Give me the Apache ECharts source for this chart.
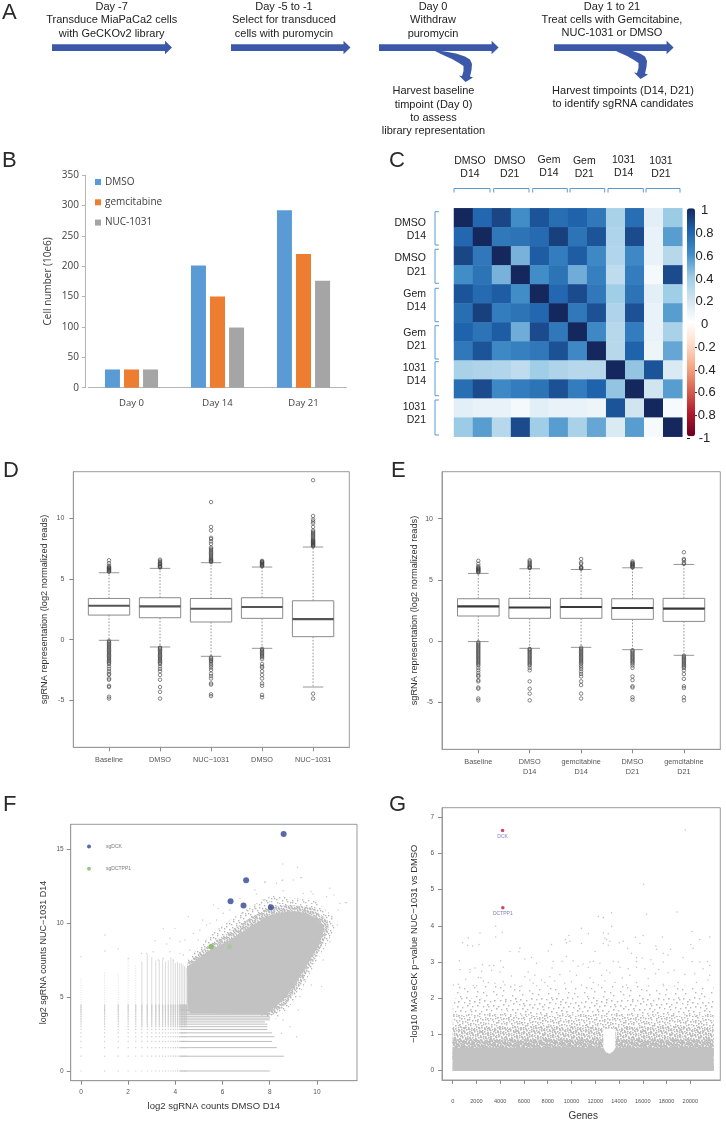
<!DOCTYPE html>
<html><head><meta charset="utf-8">
<script src="https://cdn.jsdelivr.net/npm/echarts@6/dist/echarts.min.js"></script>
<style>html,body{margin:0;padding:0;background:#fff}#main{width:726px;height:1122px;filter:blur(0.3px)}</style>
</head><body><div id="main"></div>
<script>
// ---------- Panel B ----------
const growthDays = ['Day 0','Day 14','Day 21'];
const growthDMSO = [30,201,292];
const growthGem = [30,150,220];
const growthNUC = [30,99,176];
// ---------- Panel C ----------
const corrSamples = ['DMSO D14 a','DMSO D14 b','DMSO D21 a','DMSO D21 b','Gem D14 a','Gem D14 b','Gem D21 a','Gem D21 b','1031 D14 a','1031 D14 b','1031 D21 a','1031 D21 b'];
const corrMatrix = [
 [1,.78,.9,.6,.85,.75,.8,.7,.35,.75,.12,.4],
 [.78,1,.7,.72,.76,.92,.72,.85,.33,.88,.1,.55],
 [.9,.7,1,.48,.82,.68,.82,.62,.32,.62,.1,.3],
 [.6,.72,.48,1,.6,.72,.5,.66,.27,.68,.05,.88],
 [.85,.76,.82,.6,1,.78,.88,.7,.38,.72,.12,.38],
 [.75,.92,.68,.72,.78,1,.7,.86,.33,.86,.1,.55],
 [.8,.72,.82,.5,.88,.7,1,.62,.3,.68,.1,.35],
 [.7,.85,.62,.66,.7,.86,.62,1,.3,.8,.08,.52],
 [.35,.33,.32,.27,.38,.33,.3,.3,1,.42,.85,.16],
 [.75,.88,.62,.68,.72,.86,.68,.8,.42,1,.2,.55],
 [.12,.1,.1,.05,.12,.1,.1,.08,.85,.2,1,.04],
 [.4,.55,.3,.88,.38,.55,.35,.52,.16,.55,.04,1]];
const corrColors = ['#67001F','#B2182B','#D6604D','#F4A582','#FDDBC7','#FFFFFF','#D1E5F0','#9CCBE6','#418DC8','#1F63AC','#14285E'];
const corrTicks = [1,.8,.6,.4,.2,0,-.2,-.4,-.6,-.8,-1];
// ---------- Panels D and E : [low whisker, q1, median, q3, high whisker] ----------
const boxNamesD = ['Baseline','DMSO','NUC\u22121031','DMSO','NUC\u22121031'];
const boxStatsD = [[-.05,2.03,2.8,3.4,5.52],[-.6,1.81,2.75,3.46,5.88],[-1.37,1.46,2.55,3.4,6.35],[-.71,1.76,2.69,3.46,5.99],[-3.9,.25,1.7,3.21,7.64]];
const boxNamesE = ['Baseline','DMSO\nD14','gemcitabine\nD14','DMSO\nD21','gemcitabine\nD21'];
const boxStatsE = [[-.05,2.04,2.83,3.45,5.52],[-.6,1.85,2.74,3.48,5.9],[-.52,1.85,2.77,3.48,5.84],[-.71,1.77,2.69,3.45,5.98],[-1.17,1.6,2.64,3.48,6.25]];
const outBase = [5.6,5.65,5.7,5.75,5.8,5.85,5.9,5.95,6,6.1,6.3,6.55,-.1,-.2,-.3,-.4,-.5,-.6,-.7,-.8,-.9,-1,-1.1,-1.2,-1.3,-1.4,-1.5,-1.6,-1.7,-1.8,-1.9,-2,-2.2,-2.4,-2.6,-2.8,-2.9,-3.2,-3.3,-3.8,-3.9,-4.7,-4.85];
const outD2 = [5.95,6,6.05,6.1,6.2,6.25,6.3,6.4,6.5,6.6,-.65,-.7,-.8,-.9,-1,-1.1,-1.2,-1.3,-1.4,-1.5,-1.6,-1.7,-1.8,-1.9,-2,-2.2,-2.4,-2.6,-2.9,-3.3,-3.9,-4.3,-4.85];
const outD3 = [6.4,6.45,6.5,6.55,6.6,6.7,6.8,6.9,7,7.1,7.2,7.3,7.4,7.5,7.6,7.9,8.1,8.3,8.4,9,9.3,11.35,-1.45,-1.55,-1.65,-1.75,-1.85,-2,-2.15,-2.3,-2.5,-2.8,-3,-3.2,-3.6,-3.7,-4.5,-4.65];
const outD4 = [6.05,6.1,6.15,6.2,6.25,6.3,6.35,6.4,6.45,6.5,-.75,-.85,-.95,-1.05,-1.15,-1.25,-1.35,-1.45,-1.6,-2,-2.2,-2.3,-2.6,-2.9,-3.2,-3.6,-3.8,-4.55,-4.75];
const outD5 = [7.7,7.75,7.8,7.85,7.9,7.95,8,8.05,8.1,8.15,8.2,8.3,8.4,8.5,8.6,8.7,8.8,8.9,9,9.3,9.6,9.75,9.9,10.2,13.15,-4.45,-4.85];
const outE2 = [5.95,6,6.05,6.1,6.2,6.3,6.4,6.5,6.6,-.65,-.7,-.8,-.9,-1,-1.1,-1.2,-1.3,-1.4,-1.5,-1.6,-1.7,-1.8,-1.9,-2,-2.2,-2.4,-3.3,-3.9,-4.3,-4.85];
const outE3 = [5.9,5.95,6,6.05,6.3,6.4,6.7,-.55,-.65,-.75,-.85,-.95,-1.05,-1.15,-1.25,-1.35,-1.45,-1.55,-1.65,-1.75,-1.85,-2,-2.15,-2.3,-2.5,-2.7,-2.9,-3.3,-3.6,-4.3,-4.7];
const outE4 = [6,6.05,6.1,6.15,6.2,6.25,6.3,6.35,6.4,6.5,-.75,-.85,-.95,-1.05,-1.15,-1.25,-1.35,-1.45,-1.55,-1.65,-1.75,-1.85,-2,-2.2,-2.9,-3.2,-3.7,-3.8,-4.6,-4.8];
const outE5 = [6.3,6.4,6.6,6.7,7.25,-1.2,-1.3,-1.4,-1.5,-1.6,-1.7,-1.8,-1.9,-2,-2.1,-2.2,-2.4,-2.7,-3.1,-3.7,-3.85,-4.6,-4.85];
const outliersD = [outBase,outD2,outD3,outD4,outD5];
const outliersE = [outBase,outE2,outE3,outE4,outE5];
// ---------- Panel F ----------
const sgDCK = [[8.59,16.04],[7,12.9],[6.34,11.48],[6.89,11.19],[8.05,11.08]];
const sgDCTPP1 = [[5.52,8.41]];
const sgDCTPP1Pale = [[6.3,8.41]];
const legendDCK = [[.34,15.18]];
const legendDCTPP1 = [[.34,13.69]];
const countLevels = [0,1,1.58,2,2.32,2.58,2.81,3,3.17,3.32,3.46,3.58,3.7,3.81,3.91,4,4.09,4.17,4.25,4.32,4.39,4.46];
const verticalTops = [6.3,6.7,6.6,7.6,7.2,7.4,7.9,7.7,7.5,7.5,7.6,7.4,7.5,7.7,7.5,7.3,7.4,7.3,7.3,7.2,7.1,7];
const horizontalEnds = [8,8.6,8.3,8.1,8.2,8.1,7.9,7.9,7.9,7.8,8,8,8,8,8,8,8,8,8,8,8,8];
const cloudSolid = [[4.5,6.16],[4.5,7.06],[5.47,8.19],[6.31,8.86],[7.16,9.76],[7.87,10.44],[8.3,10.65],[8.71,10.78],[9.15,10.8],[9.56,10.67],[9.95,10.35],[10.2,9.99],[10.3,9.65],[10.27,9.31],[10.06,8.41],[9.7,7.51],[9.28,6.38],[8.71,5.03],[8,4.01],[7.72,3.86],[4.62,3.9],[4.5,4.6]];
const cloudFringeInner = [[4.5,6.5],[4.5,7.3],[5.47,8.6],[6.31,9.4],[7.16,10.35],[8,11.1],[8.9,11.25],[9.8,11.05],[10.45,10.2],[10.5,9.5],[10.15,8.3],[9.7,7.05],[9.28,5.8],[8.71,4.55],[8.15,3.8],[7.72,3.8],[6,5]];
const cloudFringeOuter = [[4.5,6.5],[4.5,7.51],[5.47,9.2],[6.31,10.22],[7.16,11.12],[8.15,11.9],[9.14,11.68],[9.99,11.46],[10.69,10.44],[10.76,9.65],[10.27,8.19],[9.7,6.61],[9.28,5.26],[8.71,4.13],[8.29,3.56],[7.72,3.7],[6,5]];
const cloudStrays = [[7.8,12.81],[8.53,12.88],[9,12.92],[9.32,13.1],[7.37,12.25],[8.29,12.7],[9.75,12.13],[10.55,12.36],[10.72,11.9],[10.97,11.34],[11.26,11.39],[10.2,5.71],[9.42,6.16],[9.28,5.03],[9.77,5.82],[7.44,11.98],[6.74,11.68],[5.61,11.23],[5.16,10.22],[4.55,10.44],[3.98,9.65],[3.49,9.65],[3.77,8.98],[3.14,8.82],[3.63,8.59],[4.2,8.75],[3.06,8.07],[3.77,8.07],[2.78,7.96],[2.57,7.96],[3.49,7.62],[3.28,7.51],[4.2,7.96],[3.91,7.51],[6.03,10.67],[5.82,11],[6.31,10.89],[5.47,9.99],[5.04,9.54],[4.76,9.31],[4.41,8.86],[4.62,8.19],[4.34,7.85],[4.97,8.86],[5.32,9.88],[5.75,10.22],[6.81,10.67],[7.02,10.89],[7.37,11],[7.73,11.57],[8,11.46],[8.57,12.2],[9.42,12.02],[9.84,11.98],[10.41,11.8],[10.9,10.89],[10.86,9.88],[10.55,8.75],[10.27,7.51],[9.21,4.13],[8.57,3.45],[8.86,3],[9.14,2.32],[8.5,2.55],[11.2,11.39],[8.55,14],[9.18,13.78],[9.35,13.08],[8.55,12.93],[7.8,12.75],[1.02,9.2],[1.02,8.12],[0,7.74],[1.58,8.26],[2,7.62]];
// ---------- Panel G ----------
const hitGenes = [[4200,6.64,'DCK'],[4220,4.5,'DCTPP1']];
const geneStrays = [[19580,6.65],[16080,5.15],[3612,3.99],[4172,3.82],[2296,3.8],[3612,3.69],[1316,3.66],[840,3.53],[1680,3.44],[1260,3.46],[2212,3.48],[10836,3.93],[9772,3.73],[9492,3.62],[9856,3.57],[9576,3.53],[8316,3.48],[10836,3.51],[5656,3.38],[4816,3.29],[5572,3.28],[8036,3.3],[9576,3.15],[6636,3.12],[6076,3.08],[560,3.03],[4032,3.03],[8456,3.02],[9212,3.02],[10136,3.03],[7056,2.96],[2520,2.92],[3080,2.9],[3472,2.9],[616,2.79],[1456,2.79],[1876,2.83],[4256,2.85],[10556,2.88],[10976,2.94],[1456,2.72],[2436,2.74],[3276,2.77],[3976,2.72],[6356,2.72],[8372,2.83],[9016,2.65],[9856,2.74],[2156,2.57],[1092,2.52],[2380,2.56],[4956,2.61],[6076,2.59],[6916,2.63],[8176,2.59],[10416,2.63],[2576,2.47],[2996,2.43],[3556,2.41],[4256,2.45],[5236,2.36],[6496,2.5],[7476,2.5],[8596,2.47],[9996,2.45],[56,2.36],[476,2.38],[1736,2.34],[2016,2.34],[4396,2.36],[5656,2.32],[6776,2.41],[7756,2.43],[9436,2.41],[10836,2.36],
[12256,4.26],[12676,4.23],[13376,4.36],[16316,4.32],[18892,4.38],[13376,3.99],[11416,3.78],[12676,3.8],[13096,3.78],[12816,3.66],[12956,3.62],[13236,3.57],[12676,3.51],[13096,3.46],[14020,3.53],[14356,3.57],[15392,3.68],[16036,3.73],[17660,3.69],[20152,3.84],[20796,3.62],[21636,3.69],[20040,3.48],[20236,3.38],[15756,3.51],[17100,3.44],[17156,3.35],[14720,3.38],[11976,3.29],[18332,3.35],[17716,3.24],[18136,3.19],[15056,3.24],[15476,3.12],[15952,3.11],[16680,3.06],[19396,3.12],[11836,3.02],[11556,3],[13516,3.02],[13936,3],[15476,3.01],[12396,2.96],[16876,2.95],[17716,3],[20152,3.01],[20796,3],[21440,3.01],[11416,2.85],[14076,2.85],[14776,2.81],[15476,2.85],[16176,2.81],[17352,2.79],[21076,2.81],[21636,2.9],[12956,2.77],[13236,2.7],[12536,2.63],[11556,2.56],[14272,2.56],[14916,2.63],[17072,2.67],[18136,2.7],[18640,2.77],[19536,2.65],[20376,2.67],[21636,2.63],[11836,2.43],[12816,2.47],[13656,2.43],[15476,2.43],[16456,2.54],[17716,2.38],[18976,2.43],[20516,2.43],[21496,2.5],[12256,2.36],[14636,2.36]];
const geneBandTops = [2.35,2,1.55,1.2,.85,.62];
const geneBandDensity = [.04,.08,.2,.38,.8,1];
const geneSpan = [0,21960];
const geneGap = [[12680,1.15],[13690,1.15],[13690,.62],[13500,.52],[13200,.46],[12900,.5],[12680,.62]];

// ---------- helpers ----------
const GRAY='#c2c2c2', BOX='#8a8a8a';
// even dither fill for the regions too dense to plot point by point (a texture, not data)
function makeTile(density, color){
  const w=127,h=113,c=document.createElement('canvas');c.width=w;c.height=h;
  const g=c.getContext('2d');g.fillStyle=color;
  const n=Math.round(density*w*h/1.6);
  for(let i=0;i<n;i++){const x=(i*0.7548776662)%1*w,y=(i*0.5698402910)%1*h;g.fillRect(Math.floor(x),Math.floor(y),1.4,1.4);}
  return {image:c,repeat:'repeat'};
}
function boxSeries(stats,xi,yi,medColor){
  return {type:'custom',xAxisIndex:xi,yAxisIndex:yi,z:3,
    data:stats.map((s,i)=>[i+1].concat(s)),
    encode:{x:0,y:[1,2,3,4,5]},
    renderItem(p,api){
      const x=api.value(0),lo=api.value(1),q1=api.value(2),md=api.value(3),q3=api.value(4),hi=api.value(5);
      const P=(a,b)=>api.coord([a,b]);
      const L=(a,b,st)=>({type:'line',shape:{x1:a[0],y1:a[1],x2:b[0],y2:b[1]},style:st});
      const w={stroke:BOX,lineWidth:.9,lineDash:[1.6,1.6]},s={stroke:BOX,lineWidth:.9};
      const a=P(x-.405,q3),b=P(x+.405,q1);
      return {type:'group',children:[
        L(P(x,q3),P(x,hi),w),L(P(x,q1),P(x,lo),w),
        L(P(x-.2,hi),P(x+.2,hi),s),L(P(x-.2,lo),P(x+.2,lo),s),
        {type:'rect',shape:{x:a[0],y:a[1],width:b[0]-a[0],height:b[1]-a[1]},style:{fill:'#fff',stroke:BOX,lineWidth:1}},
        L(P(x-.405,md),P(x+.405,md),{stroke:medColor,lineWidth:2.1})
      ]};
    }};
}
function outlierSeries(lists,xi,yi){
  const data=[];lists.forEach((l,i)=>l.forEach(v=>data.push([i+1,v])));
  return {type:'scatter',xAxisIndex:xi,yAxisIndex:yi,z:4,symbol:'circle',symbolSize:3.5,data,
    itemStyle:{color:'rgba(0,0,0,0)',borderColor:'#444',borderWidth:.8},silent:true};
}
function polySeries(poly,fill,xi,yi,z){
  return {type:'custom',xAxisIndex:xi,yAxisIndex:yi,z,silent:true,data:poly,encode:{x:0,y:1},
    renderItem(p,api){ if(p.dataIndex!==0) return;
      return {type:'polygon',shape:{points:poly.map(q=>api.coord(q))},style:{fill}}; }};
}
function frameAxisY(vals,gap,name,nameSize,labelSize,margin,gridIndex,min,max){
  return {type:'value',gridIndex,min,max,splitLine:{show:false},
    axisLine:{show:true,onZero:false,lineStyle:{color:'#9a9a9a'}},
    axisTick:{show:true,length:4,customValues:vals,lineStyle:{color:'#8a8a8a'}},
    axisLabel:{customValues:vals,fontSize:labelSize,color:'#555',margin,fontFamily:'Liberation Sans',formatter:v=>String(v)},
    name,nameLocation:'middle',nameGap:gap,nameRotate:90,
    nameTextStyle:{fontSize:nameSize,color:'#333',fontFamily:'Liberation Sans'}};
}
function frameAxisXCat(names,gridIndex,min,max,margin){
  const vals=names.map((_,i)=>i+1);
  return {type:'value',gridIndex,min,max,splitLine:{show:false},
    axisLine:{show:true,onZero:false,lineStyle:{color:'#9a9a9a'}},
    axisTick:{show:true,length:4,customValues:vals,lineStyle:{color:'#8a8a8a'}},
    axisLabel:{customValues:vals,fontSize:7.3,color:'#555',margin,lineHeight:9.5,fontFamily:'Liberation Sans',formatter:v=>names[v-1]}};
}
const heatData=[];corrMatrix.forEach((r,y)=>r.forEach((v,x)=>heatData.push([x,y,v])));

const lattice=[];countLevels.forEach((x,i)=>countLevels.forEach((y,j)=>{ if(y<=verticalTops[i] && x<=horizontalEnds[j]) lattice.push([x,y]); }));

// ---------- decoration (schematic, brackets, labels) ----------
const deco=[];
const F_='"Liberation Sans"';
function T(text,x,y,size,align,fill,font){deco.push({type:'text',silent:true,style:{text,x,y,align:align||'center',verticalAlign:'middle',font:`${size}px ${font||F_}`,fill:fill||'#222'}});}
[['A',2,13],['B',2,161],['C',389,161],['D',3,471],['E',391,471],['F',3,805],['G',389,805]].forEach(l=>T(l[0],l[1],l[2],22,'left','#2a2a2a'));
[[111.7,6.5,'Day -7'],[111.7,20,'Transduce MiaPaCa2 cells'],[111.7,33.5,'with GeCKOv2 library'],
 [284,6.5,'Day -5 to -1'],[284,20,'Select for transduced'],[284,33.5,'cells with puromycin'],
 [433,6.5,'Day 0'],[433,20,'Withdraw'],[433,33.5,'puromycin'],
 [433.5,91,'Harvest baseline'],[433.5,105,'timpoint (Day 0)'],[433.5,117.5,'to assess'],[433.5,130.5,'library representation'],
 [612,6.5,'Day 1 to 21'],[612,20,'Treat cells with Gemcitabine,'],[612,33,'NUC-1031 or DMSO'],
 [623,91,'Harvest timpoints (D14, D21)'],[623,104,'to identify sgRNA candidates']].forEach(t=>T(t[2],t[0],t[1],11));
const ARROW='#3b59a8';
[[52,172],[231,350.5],[379,498.6],[554,673.6]].forEach(a=>{
  deco.push({type:'polygon',silent:true,shape:{points:[[a[0],44.3],[a[1]-7,44.3],[a[1]-7,40.8],[a[1],47.5],[a[1]-7,54.2],[a[1]-7,51],[a[0],51]]},style:{fill:ARROW}});
});
const bend=[[433,50],[445,51.5],[456,53.5],[465,56.5],[470,59.5],[472,64],[471.5,70],[470,76.5],[473,77.5],[465.5,82],[459,75.5],[462,76],[463.5,71],[463.5,66],[459,63],[452,59],[443,55]];
deco.push({type:'polygon',silent:true,shape:{points:bend},style:{fill:ARROW}});
deco.push({type:'polygon',silent:true,x:175,y:-3,shape:{points:bend},style:{fill:ARROW}});
const BR='#5b9bd5';
[[454,490],[493.7,529],[532.7,567.3],[570,604.7],[608,643.3],[646,680]].forEach(b=>deco.push({type:'polyline',silent:true,shape:{points:[[b[0],192.5],[b[0],188.5],[b[1],188.5],[b[1],192.5]]},style:{stroke:BR,lineWidth:1,fill:'none'}}));
[[211.7,245],[249.3,283.3],[288.3,321.7],[325.7,359],[361.7,395.7],[400,435]].forEach(b=>deco.push({type:'polyline',silent:true,shape:{points:[[439,b[0]],[435,b[0]],[435,b[1]],[439,b[1]]]},style:{stroke:BR,lineWidth:1,fill:'none'}}));
[[470,161,174.3,'DMSO','D14'],[509.7,161,174.3,'DMSO','D21'],[549,160,173,'Gem','D14'],[584.3,161,174.3,'Gem','D21'],[623.7,160,173,'1031','D14'],[661,161,174,'1031','D21']].forEach(l=>{T(l[3],l[0],l[1],10.5);T(l[4],l[0],l[2],10.5);});
[[223,236.3,'DMSO','D14'],[257.7,271.7,'DMSO','D21'],[293.7,306.7,'Gem','D14'],[333.3,346.3,'Gem','D21'],[367.7,380.7,'1031','D14'],[407,419.7,'1031','D21']].forEach(l=>{T(l[2],426,l[0],10.5,'right');T(l[3],426,l[1],10.5,'right');});

const hideX=g=>({type:'value',gridIndex:g,show:false,min:0,max:1});
const option={
  animation:false,backgroundColor:'#fff',
  textStyle:{fontFamily:'Liberation Sans'},
  graphic:{elements:deco},
  grid:[
    {left:88.5,top:175,width:258,height:212.7},
    {left:454,top:208.3,width:228.3,height:228.4},
    {left:687,top:210.7,width:8,height:227.6},
    {left:73.3,top:471.7,width:276,height:275.6,show:true,borderColor:'#9a9a9a',borderWidth:1,backgroundColor:'#fff'},
    {left:442,top:471.7,width:278.3,height:277.6,show:true,borderColor:'#9a9a9a',borderWidth:1},
    {left:70.7,top:824.3,width:286.3,height:256.4,show:true,borderColor:'#9a9a9a',borderWidth:1},
    {left:442,top:807.7,width:278.3,height:280,show:true,borderColor:'#9a9a9a',borderWidth:1}
  ],
  xAxis:[
    {type:'category',gridIndex:0,data:growthDays,axisLine:{lineStyle:{color:'#b5b5b5'}},axisTick:{show:false},
      axisLabel:{fontSize:9.5,color:'#404040',margin:11,fontFamily:'Open Sans'}},
    {type:'category',gridIndex:1,show:false,data:corrSamples},
    hideX(2),
    frameAxisXCat(boxNamesD,3,.3,5.71,8),
    frameAxisXCat(boxNamesE,4,.294,5.708,8),
    {type:'value',gridIndex:5,min:-.436,max:11.7,splitLine:{show:false},axisLine:{show:true,onZero:false,lineStyle:{color:'#9a9a9a'}},
      axisTick:{show:true,length:4,customValues:[0,2,4,6,8,10],lineStyle:{color:'#8a8a8a'}},
      axisLabel:{customValues:[0,2,4,6,8,10],fontSize:6.5,color:'#555',margin:8,formatter:v=>String(v)},
      name:'log2 sgRNA counts DMSO D14',nameLocation:'middle',nameGap:21,nameTextStyle:{fontSize:9.5,color:'#333'}},
    {type:'value',gridIndex:6,min:-900,max:22525,splitLine:{show:false},axisLine:{show:true,onZero:false,lineStyle:{color:'#9a9a9a'}},
      axisTick:{show:true,length:4,customValues:[0,2000,4000,6000,8000,10000,12000,14000,16000,18000,20000],lineStyle:{color:'#8a8a8a'}},
      axisLabel:{customValues:[0,2000,4000,6000,8000,10000,12000,14000,16000,18000,20000],fontSize:5.6,color:'#555',margin:18,formatter:v=>String(v)},
      name:'Genes',nameLocation:'middle',nameGap:31,nameTextStyle:{fontSize:10,color:'#333',padding:[0,0,0,4]}}
  ],
  yAxis:[
    {type:'value',gridIndex:0,min:0,max:350,interval:50,offset:3.5,splitLine:{show:false},
      axisLine:{show:true,lineStyle:{color:'#b5b5b5'}},axisTick:{show:true,length:3,lineStyle:{color:'#b5b5b5'}},
      axisLabel:{fontSize:10,color:'#404040',margin:6,fontFamily:'Open Sans'},
      name:'Cell number (10e6)',nameLocation:'middle',nameGap:32,nameTextStyle:{fontSize:10,color:'#404040',fontFamily:'Open Sans'}},
    {type:'category',gridIndex:1,show:false,inverse:true,data:corrSamples},
    {type:'value',gridIndex:2,position:'right',min:-1,max:1,interval:.2,splitLine:{show:false},
      axisLine:{show:false},axisTick:{show:true,length:3,lineStyle:{color:'#111'}},
      axisLabel:{customValues:corrTicks,fontSize:13,color:'#222',align:'center',margin:9.5,formatter:v=>String(Math.round(v*10)/10)}},
    frameAxisY([-5,0,5,10],24,'sgRNA representation (log2 normalized reads)',9.2,7,9,3,-8.87,13.85),
    frameAxisY([-5,0,5,10],23.5,'sgRNA representation (log2 normalized reads)',9.2,7,9,4,-8.85,13.83),
    frameAxisY([0,5,10,15],22.5,'log2 sgRNA counts NUC\u22121031 D14',9,6.5,7,5,-.656,16.69),
    frameAxisY([0,1,2,3,4,5,6,7],23.5,'\u2212log10 MAGeCK p\u2212value NUC\u22121031 vs DMSO',9.4,6.5,8,6,-.27,7.27)
  ],
  visualMap:{type:'continuous',min:-1,max:1,seriesIndex:3,inRange:{color:corrColors},left:687,top:208.3,itemWidth:8,itemHeight:228,padding:0,calculable:false,hoverLink:false,text:null,showLabel:false},
  legend:{left:90,top:172,orient:'vertical',itemWidth:6,itemHeight:6,itemGap:10.3,icon:'rect',data:['DMSO','gemcitabine','NUC-1031'],
    textStyle:{fontSize:10,color:'#404040',fontFamily:'Open Sans',padding:[0,0,0,-1]}},
  series:[
    {type:'bar',name:'DMSO',xAxisIndex:0,yAxisIndex:0,data:growthDMSO,barWidth:15,barGap:'27%',itemStyle:{color:'#5b9bd5'}},
    {type:'bar',name:'gemcitabine',xAxisIndex:0,yAxisIndex:0,data:growthGem,barWidth:15,barGap:'27%',itemStyle:{color:'#ed7d31'}},
    {type:'bar',name:'NUC-1031',xAxisIndex:0,yAxisIndex:0,data:growthNUC,barWidth:15,barGap:'27%',itemStyle:{color:'#a5a5a5'}},
    {type:'heatmap',xAxisIndex:1,yAxisIndex:1,data:heatData,silent:true,emphasis:{disabled:true}},
    boxSeries(boxStatsD,3,3,'#555'),outlierSeries(outliersD,3,3),
    boxSeries(boxStatsE,4,4,'#3a3a3a'),outlierSeries(outliersE,4,4),
    // Panel F
    {type:'scatter',xAxisIndex:5,yAxisIndex:5,silent:true,symbol:'rect',symbolSize:1.2,data:lattice,itemStyle:{color:'#c4c4c4'},z:1,large:false},
    {type:'custom',xAxisIndex:5,yAxisIndex:5,silent:true,z:1,data:countLevels.map((v,i)=>[v,verticalTops[i]]),encode:{x:0,y:1},
      renderItem(p,api){const x=api.value(0),a=api.coord([x,3]),b=api.coord([x,api.value(1)]);
        return {type:'line',shape:{x1:a[0],y1:a[1],x2:b[0],y2:b[1]},style:{stroke:'#d0d0d0',lineWidth:x<2.4?.8:.9,lineDash:x<2.4?[1,1.4]:null,opacity:x<2.4?.8:.85}};}},
    {type:'custom',xAxisIndex:5,yAxisIndex:5,silent:true,z:1,data:countLevels.map((v,i)=>[horizontalEnds[i],v]),encode:{x:0,y:1},
      renderItem(p,api){const y=api.value(1),a=api.coord([4.2,y]),b=api.coord([api.value(0),y]);
        return {type:'line',shape:{x1:a[0],y1:a[1],x2:b[0],y2:b[1]},style:{stroke:'#bebebe',lineWidth:1}};}},
    polySeries(cloudFringeOuter,makeTile(.14,'#b8b8b8'),5,5,2),
    polySeries(cloudFringeInner,makeTile(.6,'#bcbcbc'),5,5,2),
    polySeries(cloudSolid,GRAY,5,5,2),
    {type:'scatter',xAxisIndex:5,yAxisIndex:5,silent:true,symbolSize:1.4,data:cloudStrays,itemStyle:{color:'#bdbdbd'},z:3},
    {type:'scatter',name:'sgDCK',xAxisIndex:5,yAxisIndex:5,silent:true,symbolSize:6,data:sgDCK,itemStyle:{color:'#2f4596'},z:5},
    {type:'scatter',name:'sgDCTPP1',xAxisIndex:5,yAxisIndex:5,silent:true,symbolSize:5.5,data:sgDCTPP1,itemStyle:{color:'#7fba5c'},z:5},
    {type:'scatter',xAxisIndex:5,yAxisIndex:5,silent:true,symbolSize:5,data:sgDCTPP1Pale,itemStyle:{color:'#a5c594',opacity:.7},z:5},
    {type:'scatter',xAxisIndex:5,yAxisIndex:5,silent:true,symbolSize:4,data:legendDCK,itemStyle:{color:'#2f4596'},z:5,
      label:{show:true,position:'right',distance:15,formatter:'sgDCK',fontSize:5,color:'#555'}},
    {type:'scatter',xAxisIndex:5,yAxisIndex:5,silent:true,symbolSize:4,data:legendDCTPP1,itemStyle:{color:'#7fba5c'},z:5,
      label:{show:true,position:'right',distance:15,formatter:'sgDCTPP1',fontSize:5,color:'#555'}},
    // Panel G
    {type:'custom',xAxisIndex:6,yAxisIndex:6,silent:true,z:1,data:geneBandTops.map((t,i)=>[geneSpan[1],t,geneBandDensity[i]]),encode:{x:0,y:1},
      renderItem(p,api){const a=api.coord([geneSpan[0],api.value(1)]),b=api.coord([geneSpan[1],-.02]),d=api.value(2);
        const fill=d>=1?GRAY:makeTile(d,'#bcbcbc');
        return {type:'rect',shape:{x:a[0],y:a[1],width:b[0]-a[0],height:b[1]-a[1]},style:{fill}};}},
    polySeries(geneGap,'#ffffff',6,6,2),
    {type:'scatter',xAxisIndex:6,yAxisIndex:6,silent:true,symbolSize:1.5,data:geneStrays,itemStyle:{color:'#b5b5b5'},z:3},
    {type:'scatter',xAxisIndex:6,yAxisIndex:6,silent:true,symbolSize:3.5,data:hitGenes,itemStyle:{color:'#c8143c'},z:5,
      label:{show:true,position:'bottom',distance:1.5,formatter:p=>p.data[2],fontSize:5,color:'#5a5aa8'}}
  ]
};
const chart=echarts.init(document.getElementById('main'),null,{renderer:'canvas'});
chart.setOption(option);
</script></body></html>
